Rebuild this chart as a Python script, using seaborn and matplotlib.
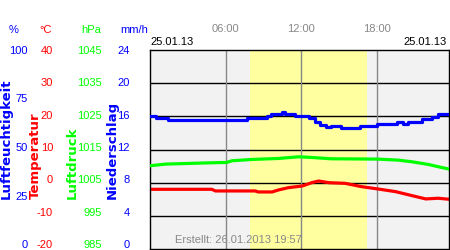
import matplotlib
matplotlib.use("Agg")
import matplotlib.pyplot as plt
import seaborn as sns

plt.rcParams['font.family'] = ['Liberation Sans', 'DejaVu Sans']

# ---- data ----
hum_hours = [0.0, 0.5, 1.4, 7.7, 9.3, 9.6, 10.5, 10.7, 11.5, 12.6, 13.1, 13.5, 14.0, 14.4,
             15.2, 16.7, 18.0, 19.6, 20.1, 20.5, 21.6, 22.4, 22.9, 23.75]
humidity = [66.8, 65.8, 65.0, 65.8, 66.7, 67.7, 68.7, 67.7, 66.7, 65.6, 64.0, 62.2, 61.2, 61.8,
            60.8, 61.7, 62.7, 63.8, 62.8, 63.9, 65.2, 66.3, 67.7, 67.7]

temp_hours = [0, 4.9, 5.2, 8.35, 8.6, 9.7, 10.2, 11.0, 12.1, 12.85, 13.4, 14.2, 15.5, 16.8,
              18.1, 19.5, 20.8, 21.9, 22.9, 23.75]
temperature = [-2.0, -2.0, -2.5, -2.5, -2.8, -2.8, -2.2, -1.5, -1.0, 0.0, 0.5, 0.0, -0.2, -1.2,
               -1.9, -2.7, -3.9, -4.9, -4.7, -5.0]

pres_hours = [0, 1.25, 4.9, 6.1, 6.5, 8.1, 10.2, 11.8, 12.85, 14.4, 18.1, 19.7, 20.8, 22.1,
              22.9, 23.75]
pressure = [1010.1, 1010.6, 1011.0, 1011.1, 1011.6, 1012.0, 1012.3, 1012.8, 1012.6, 1012.2,
            1012.1, 1011.8, 1011.3, 1010.5, 1009.8, 1009.1]

hum_ticks = [0, 25, 50, 75, 100]
temp_ticks = [-20, -10, 0, 10, 20, 30, 40]
pres_ticks = [985, 995, 1005, 1015, 1025, 1035, 1045]
prec_ticks = [0, 4, 8, 12, 16, 20, 24]
time_ticks = [6, 12, 18]
time_labels = ["06:00", "12:00", "18:00"]
daylight = (7.97, 17.22)
date_label = "25.01.13"
created = "Erstellt: 26.01.2013 19:57"

BLUE = "#0000ff"
RED = "#ff0000"
GREEN = "#00ff00"
GRAY = "#888888"

fig = plt.figure(figsize=(4.5, 2.5), dpi=100)
rect = [150/450, 1/250, 299/450, 199/250]
ax = fig.add_axes(rect)
ax.set_facecolor("#f2f2f2")
ax.set_xlim(0, 23.75)
ax.set_ylim(-20, 40)

ax.axvspan(*daylight, color="#ffffa0", lw=0, zorder=0.5)
for y in temp_ticks[1:-1]:
    ax.axhline(y, color="black", lw=1, zorder=1)
for x in time_ticks:
    ax.axvline(x, color=GRAY, lw=1, zorder=1)

ax_h = ax.twinx()
ax_h.set_ylim(0, 100)
ax_p = ax.twinx()
ax_p.set_ylim(985, 1045)

sns.lineplot(x=pres_hours, y=pressure, ax=ax_p, color=GREEN, lw=2.3, zorder=3)
sns.lineplot(x=temp_hours, y=temperature, ax=ax, color=RED, lw=2.3, zorder=3)
sns.lineplot(x=hum_hours, y=humidity, ax=ax_h, color=BLUE, lw=2.3, zorder=3,
             drawstyle="steps-post")

for a in (ax, ax_h, ax_p):
    a.set_ylabel("")
    a.tick_params(axis="y", which="both", length=0, labelleft=False, labelright=False)
for a in (ax_h, ax_p):
    for s in a.spines.values():
        s.set_visible(False)

# tick-label columns (labels span from the top edge to 5 px above the bottom edge)
def label_axis(ticks, color, pad):
    a = fig.add_axes(rect, frameon=False)
    lo, hi = ticks[0], ticks[-1]
    a.set_ylim(lo - 5/194 * (hi - lo), hi)
    a.set_xticks([])
    a.set_yticks(ticks)
    a.set_yticklabels([str(t) for t in ticks])
    a.tick_params(axis="y", length=0, pad=pad, labelsize=8, labelcolor=color)
    a.patch.set_visible(False)
    return a

label_axis(hum_ticks, BLUE, 87.8)
label_axis(temp_ticks, RED, 69.8)
label_axis(pres_ticks, GREEN, 34.6)
label_axis(prec_ticks, BLUE, 14.4)

for s in ax.spines.values():
    s.set_visible(True)
    s.set_color("black")
    s.set_linewidth(1)
    s.set_zorder(5)

ax.xaxis.tick_top()
ax.set_xticks(time_ticks)
ax.set_xticklabels(time_labels)
ax.tick_params(axis="x", length=0, pad=11.5, labelsize=8, labelcolor=GRAY,
               labeltop=True, labelbottom=False)

# header text
fig.text(150/450, 1 - 42/250, date_label, ha="left", va="center", fontsize=8, color="black")
fig.text(447/450, 1 - 42/250, date_label, ha="right", va="center", fontsize=8, color="black")
fig.text(175/450, 1 - 240/250, created, ha="left", va="center",
         fontsize=8, color=GRAY, zorder=6)

# unit headings
for xx, txt, col in [(14, "%", BLUE), (46, "°C", RED), (91, "hPa", GREEN), (134, "mm/h", BLUE)]:
    fig.text(xx/450, 1 - 30/250, txt, ha="center", va="center", fontsize=8, color=col)

# rotated axis titles
for xx, txt, col in [(6, "Luftfeuchtigkeit", BLUE), (35, "Temperatur", RED),
                     (72, "Luftdruck", GREEN), (112, "Niederschlag", BLUE)]:
    fig.text(xx/450, 1 - 199/250, txt, rotation=90, ha="center", va="bottom",
             fontsize=9.5, fontweight="bold", color=col, family="DejaVu Sans")

fig.savefig("out.png", dpi=100)
